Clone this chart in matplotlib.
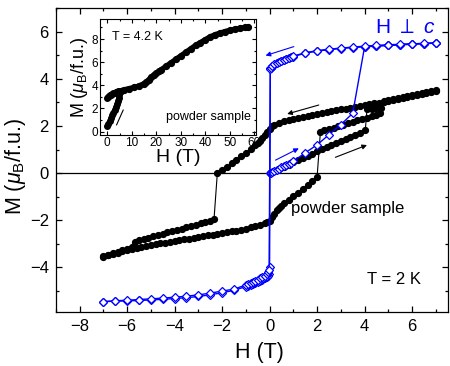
import matplotlib
matplotlib.use('Agg')
import matplotlib.pyplot as plt
from matplotlib.ticker import MultipleLocator

plt.rcParams['font.family'] = ['Liberation Sans', 'DejaVu Sans']
plt.rcParams['mathtext.fontset'] = 'custom'
plt.rcParams['mathtext.rm'] = 'Liberation Sans'
plt.rcParams['mathtext.it'] = 'Liberation Sans:italic'

# ---- powder sample, T = 2 K (black) ----
# sweep 7 T -> -7 T
h_down = [7.0, 6.8, 6.6, 6.4, 6.2, 6.0, 5.8, 5.6, 5.4, 5.2, 5.0, 4.8, 4.6, 4.4, 4.2, 4.0,
          3.8, 3.6, 3.4, 3.2, 3.0, 2.8, 2.6, 2.4, 2.2, 2.0, 1.8, 1.6, 1.4, 1.2, 1.0, 0.8,
          0.6, 0.4, 0.2, 0.1, 0.0, -0.1, -0.2, -0.3, -0.4, -0.5, -0.6, -0.8, -1.0, -1.2,
          -1.4, -1.6, -1.8, -2.0, -2.2,
          -2.34, -2.5, -2.7, -2.9, -3.1, -3.3, -3.5, -3.7, -3.9, -4.1, -4.3, -4.5, -4.7,
          -4.9, -5.1, -5.3, -5.5, -5.65,
          -5.8, -6.0, -6.2, -6.4, -6.6, -6.8, -7.0]
m_down = [3.50, 3.45, 3.40, 3.36, 3.32, 3.28, 3.24, 3.20, 3.16, 3.12, 3.07, 3.03, 2.99, 2.96, 2.93, 2.90,
          2.86, 2.82, 2.78, 2.74, 2.70, 2.66, 2.62, 2.58, 2.54, 2.50, 2.46, 2.42, 2.38, 2.34, 2.30, 2.25,
          2.20, 2.13, 2.05, 1.99, 1.88, 1.74, 1.60, 1.48, 1.37, 1.27, 1.18, 1.02, 0.87, 0.72,
          0.56, 0.41, 0.27, 0.13, 0.0,
          -1.97, -2.02, -2.08, -2.14, -2.19, -2.25, -2.30, -2.36, -2.41, -2.47, -2.52, -2.58, -2.63,
          -2.69, -2.74, -2.80, -2.86, -2.92,
          -3.15, -3.22, -3.28, -3.34, -3.40, -3.46, -3.53]

# sweep -7 T -> 7 T
h_up = [-7.0, -6.8, -6.6, -6.4, -6.2, -6.0, -5.8, -5.6, -5.4, -5.2, -5.0, -4.8, -4.6, -4.4,
        -4.2, -4.0, -3.8, -3.6, -3.4, -3.2, -3.0, -2.8, -2.6, -2.4, -2.2, -2.0, -1.8, -1.6,
        -1.4, -1.2, -1.0, -0.8, -0.6, -0.4, -0.2, -0.1, 0.0, 0.1, 0.2, 0.3, 0.4, 0.5, 0.6,
        0.8, 1.0, 1.2, 1.4, 1.6, 1.8, 2.0,
        2.14, 2.3, 2.5, 2.7, 2.9, 3.1, 3.3, 3.5, 3.7, 3.9, 4.1, 4.3, 4.5, 4.66,
        4.8, 5.0, 5.2, 5.4, 5.6, 5.8, 6.0, 6.2, 6.4, 6.6, 6.8, 7.0]
m_up = [-3.55, -3.50, -3.44, -3.39, -3.33, -3.28, -3.24, -3.19, -3.15, -3.10, -3.06, -3.02, -2.99, -2.95,
        -2.92, -2.88, -2.85, -2.82, -2.78, -2.75, -2.72, -2.69, -2.65, -2.62, -2.58, -2.55, -2.51, -2.47,
        -2.44, -2.40, -2.36, -2.31, -2.26, -2.20, -2.13, -2.08, -2.02, -1.88, -1.72, -1.58, -1.47, -1.38, -1.29,
        -1.14, -0.99, -0.83, -0.66, -0.49, -0.33, -0.16,
        1.76, 1.81, 1.87, 1.93, 1.99, 2.05, 2.11, 2.18, 2.24, 2.30, 2.36, 2.42, 2.48, 2.54,
        3.06, 3.10, 3.15, 3.19, 3.23, 3.27, 3.31, 3.35, 3.39, 3.43, 3.47, 3.52]

# virgin curve
h_virgin = [0.0, 0.2, 0.4, 0.6, 0.8, 1.0, 1.2, 1.4, 1.6, 1.8, 2.0, 2.2, 2.4, 2.6, 2.8, 3.0,
            3.2, 3.4, 3.6, 3.8, 4.03, 4.1, 4.3, 4.5, 4.7]
m_virgin = [0.0, 0.08, 0.17, 0.26, 0.35, 0.45, 0.54, 0.63, 0.73, 0.82, 0.92, 1.01, 1.10, 1.18, 1.27, 1.35,
            1.44, 1.52, 1.61, 1.70, 1.82, 2.72, 2.74, 2.76, 2.78]

# ---- single crystal, H perpendicular to c (blue) ----
hb_virgin = [0.0, 0.05, 0.1, 0.2, 0.3, 0.4, 0.5, 0.6, 0.7, 0.8, 0.9, 1.0, 1.5, 2.0, 2.5, 3.0, 3.5,
             4.0, 4.5, 5.0, 5.5, 6.0, 6.5, 7.0]
mb_virgin = [0.0, 0.02, 0.05, 0.10, 0.15, 0.19, 0.24, 0.29, 0.34, 0.39, 0.44, 0.50, 0.86, 1.20, 1.63, 2.06, 2.54,
             5.37, 5.40, 5.43, 5.46, 5.48, 5.50, 5.52]

hb_down = [7.0, 6.5, 6.0, 5.5, 5.0, 4.5, 4.0, 3.5, 3.0, 2.5, 2.0, 1.5, 1.0, 0.9, 0.8, 0.7, 0.6, 0.5,
           0.4, 0.3, 0.2, 0.1, 0.05, 0.03, 0.0, -0.02, -0.05, -0.1, -0.2, -0.3, -0.4, -0.5, -0.6, -0.7,
           -0.8, -0.9, -1.0, -1.5, -2.0, -2.5, -3.0, -3.5, -4.0, -4.5, -5.0, -5.5, -6.0, -6.5, -7.0]
mb_down = [5.52, 5.49, 5.47, 5.44, 5.42, 5.39, 5.36, 5.33, 5.29, 5.24, 5.18, 5.09, 4.95, 4.92, 4.88, 4.84, 4.80, 4.76,
           4.71, 4.66, 4.60, 4.53, 4.48, 4.45, -3.97, -4.28, -4.35, -4.40, -4.47, -4.53, -4.58, -4.63, -4.67, -4.71,
           -4.75, -4.78, -4.82, -4.98, -5.08, -5.17, -5.24, -5.29, -5.33, -5.36, -5.39, -5.41, -5.43, -5.44, -5.46]

hb_up = [-7.0, -6.5, -6.0, -5.5, -5.0, -4.5, -4.0, -3.5, -3.0, -2.5, -2.0, -1.5, -1.0, -0.9, -0.8, -0.7,
         -0.6, -0.5, -0.4, -0.3, -0.2, -0.1, -0.05, -0.02, 0.03, 0.05, 0.1, 0.2, 0.3, 0.4, 0.5, 0.6, 0.7,
         0.8, 0.9, 1.0, 1.5, 2.0, 2.5, 3.0, 3.5, 4.0, 4.5, 5.0, 5.5, 6.0, 6.5, 7.0]
mb_up = [-5.46, -5.42, -5.40, -5.37, -5.34, -5.31, -5.27, -5.23, -5.17, -5.10, -5.01, -4.93, -4.75, -4.71, -4.66, -4.62,
         -4.57, -4.52, -4.47, -4.41, -4.35, -4.27, -4.20, -4.10, 4.42, 4.47, 4.55, 4.62, 4.68, 4.73, 4.78, 4.82, 4.86,
         4.90, 4.93, 4.97, 5.11, 5.20, 5.26, 5.31, 5.35, 5.39, 5.42, 5.45, 5.47, 5.49, 5.51, 5.53]

# ---- inset: pulsed field, T = 4.2 K ----
hi_up = [0.0, 0.5, 1.0, 1.5, 2.0, 2.5, 3.0, 3.5, 4.0, 4.3, 4.6, 4.9, 5.2]
mi_up = [0.45, 0.68, 0.92, 1.15, 1.40, 1.62, 1.88, 2.12, 2.40, 2.62, 2.88, 3.15, 3.40]
hi_down = [0.0, 0.3, 0.6, 1.0, 1.5, 2.0, 2.5, 3.0, 3.5, 4.0, 4.5, 5.0, 5.5]
mi_down = [2.90, 2.98, 3.05, 3.12, 3.20, 3.26, 3.31, 3.36, 3.41, 3.45, 3.48, 3.51, 3.53]
hi_main = [5.5, 7, 9, 11, 13, 15, 16, 17, 18, 19, 20, 21, 22, 24, 26, 28, 30, 32, 34, 36, 38,
           40, 42, 44, 46, 48, 50, 52, 54, 56, 57.5]
mi_main = [3.53, 3.62, 3.72, 3.82, 3.95, 4.15, 4.30, 4.50, 4.70, 4.90, 5.05, 5.20, 5.35, 5.65, 5.95, 6.25,
           6.55, 6.85, 7.15, 7.45, 7.70, 7.95, 8.20, 8.38, 8.52, 8.65, 8.76, 8.85, 8.92, 9.00, 9.05]

blue = '#0000ff'

fig = plt.figure(figsize=(4.5, 3.66), dpi=100)
ax = fig.add_axes([0.124, 0.1475, 0.871, 0.83])

ax.axhline(0, color='black', lw=0.9, zorder=1)

for h, m in [(h_down, m_down), (h_up, m_up), (h_virgin, m_virgin)]:
    ax.plot(h, m, '-', color='black', lw=0.8, marker='o', ms=4.2, mec='black', mfc='black', zorder=3)

for h, m in [(hb_virgin, mb_virgin), (hb_down, mb_down), (hb_up, mb_up)]:
    ax.plot(h, m, '-', color=blue, lw=1.0, marker='D', ms=3.6, mec=blue, mfc='white', mew=0.9, zorder=4)

# arrows
arr_k = dict(arrowstyle='-|>', color='black', lw=0.8, mutation_scale=7, shrinkA=0, shrinkB=0)
arr_b = dict(arrowstyle='-|>', color=blue, lw=0.8, mutation_scale=7, shrinkA=0, shrinkB=0)
ax.annotate('', xy=(0.74, 2.51), xytext=(2.07, 2.89), arrowprops=arr_k)
ax.annotate('', xy=(4.1, 1.19), xytext=(2.77, 0.67), arrowprops=arr_k)
ax.annotate('', xy=(-0.17, 4.99), xytext=(1.02, 5.37), arrowprops=arr_b)
ax.annotate('', xy=(1.23, 1.05), xytext=(0.25, 0.55), arrowprops=arr_b)

ax.text(5.7, 6.17, r'H $\perp$ $\mathit{c}$', color=blue, fontsize=15, ha='center', va='center')
ax.text(0.9, -1.49, 'powder sample', fontsize=12, ha='left', va='center')
ax.text(4.1, -4.54, 'T = 2 K', fontsize=12, ha='left', va='center')

ax.set_xlim(-9, 7.5)
ax.set_ylim(-5.9, 7)
ax.xaxis.set_major_locator(MultipleLocator(2))
ax.xaxis.set_minor_locator(MultipleLocator(1))
ax.yaxis.set_major_locator(MultipleLocator(2))
ax.yaxis.set_minor_locator(MultipleLocator(1))
ax.tick_params(which='both', direction='in', top=True, right=True, labelsize=12, width=0.9)
ax.tick_params(which='major', length=4, pad=5)
ax.tick_params(which='minor', length=2.2)
ax.set_xlabel('H (T)', fontsize=15.5)
ax.set_ylabel(r'M ($\mu_\mathrm{B}$/f.u.)', fontsize=15.5)
ax.xaxis.set_label_coords(0.52, -0.10)
ax.yaxis.set_label_coords(-0.07, 0.48)
for s in ax.spines.values():
    s.set_linewidth(0.9)

# inset
axi = fig.add_axes([0.222, 0.631, 0.346, 0.316])
axi.plot(hi_up, mi_up, '-', color='black', lw=3.5, marker='o', ms=4, solid_capstyle='round')
axi.plot(hi_down, mi_down, '-', color='black', lw=3.5, marker='o', ms=4, solid_capstyle='round')
axi.plot(hi_main, mi_main, '-', color='black', lw=3.8, marker='o', ms=4.2, solid_capstyle='round')
axi.plot([3.8, 6.5], [0.58, 1.86], '-', color='black', lw=0.8)
axi.text(1.8, 8.2, 'T = 4.2 K', fontsize=9, ha='left', va='center')
axi.text(24, 1.24, 'powder sample', fontsize=9, ha='left', va='center')
axi.set_xlim(-3, 60.5)
axi.set_ylim(-0.3, 9.7)
axi.xaxis.set_major_locator(MultipleLocator(10))
axi.xaxis.set_minor_locator(MultipleLocator(5))
axi.yaxis.set_major_locator(MultipleLocator(2))
axi.yaxis.set_minor_locator(MultipleLocator(1))
axi.tick_params(which='both', direction='in', top=True, right=True, labelsize=8.5, width=0.8)
axi.tick_params(which='major', length=3, pad=1.5)
axi.tick_params(which='minor', length=1.6)
axi.set_xlabel('H (T)', fontsize=14, labelpad=0)
axi.set_ylabel(r'M ($\mu_\mathrm{B}$/f.u.)', fontsize=13, labelpad=1)
for s in axi.spines.values():
    s.set_linewidth(0.8)

fig.savefig('out.png', dpi=100)
